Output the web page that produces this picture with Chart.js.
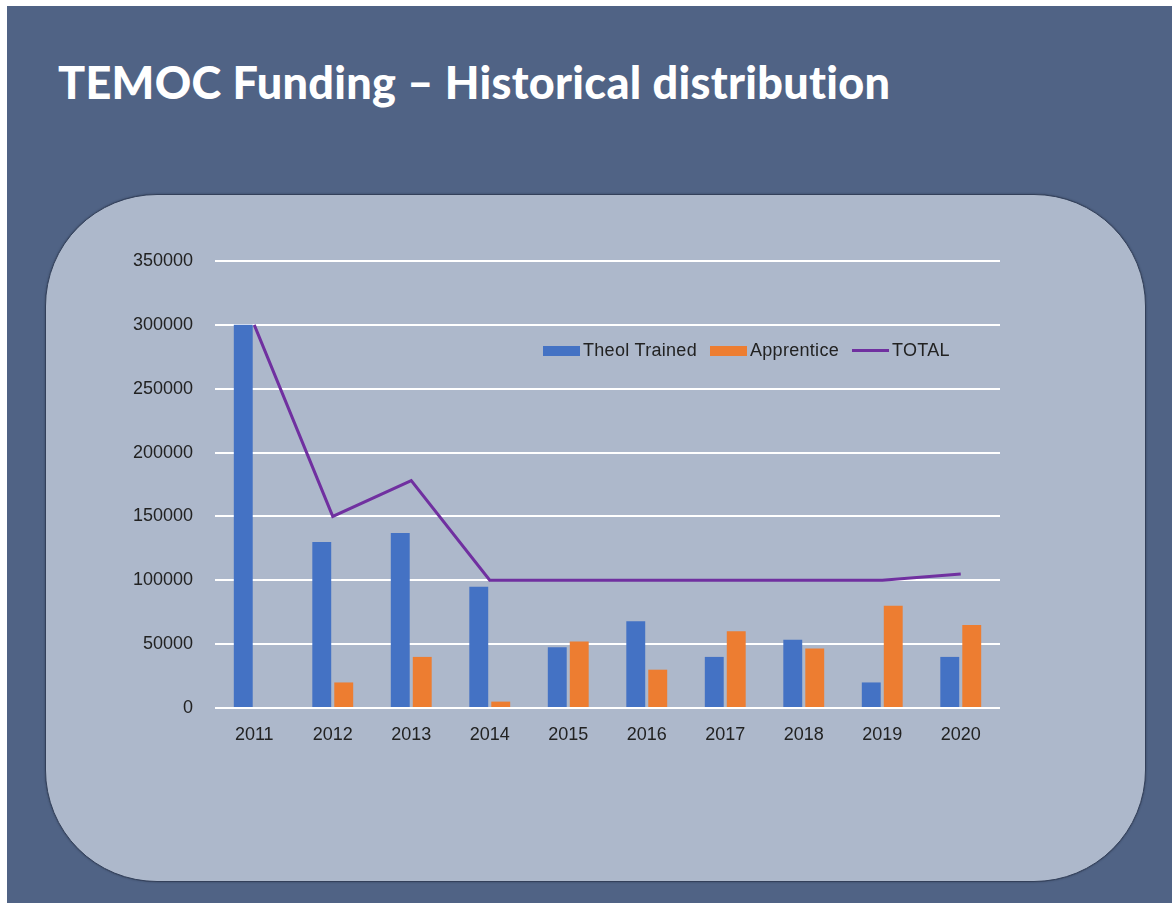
<!DOCTYPE html>
<html>
<head>
<meta charset="utf-8">
<script src="https://cdn.jsdelivr.net/npm/chart.js@4"></script>
<style>
    body { margin: 0; background: #ffffff; width: 1172px; height: 903px; overflow: hidden; position: relative; }
    #slide { position: absolute; left: 7px; top: 6px; width: 1165px; height: 897px; background: #506385; }
    #title { position: absolute; left: 58px; top: 55px; color: #ffffff; font-family: Lato, sans-serif; font-weight: 900; font-size: 45px; letter-spacing: 0.3px; white-space: nowrap; }
    #panel { position: absolute; left: 45px; top: 194px; width: 1099px; height: 686px; background: #adb8cb; border: 1px solid #33405a; border-radius: 112px; box-shadow: 0 0 2px rgba(30,40,60,0.6); }
    #chart { position: absolute; left: 0; top: 0; }
    #legend { position: absolute; left: 543px; top: 340px; display: flex; align-items: center; font-family: "Liberation Sans", Arial, sans-serif; font-size: 18px; color: #222; white-space: nowrap; letter-spacing: 0.3px; }
    .item { display: flex; align-items: center; margin-right: 13px; }
    .swatch { width: 37px; margin-right: 3px; }
</style>
</head>
<body>
<div id="slide"></div>
<div id="title">TEMOC Funding – Historical distribution</div>
<div id="panel"></div>
<canvas id="chart" width="1172" height="903"></canvas>
<div id="legend"></div>
<script>
document.addEventListener('DOMContentLoaded', function() {
    // Values
    const years = ['2011', '2012', '2013', '2014', '2015', '2016', '2017', '2018', '2019', '2020'];
    const theolTrained = [300000, 130000, 137000, 95000, 47500, 68000, 40000, 53500, 20000, 40000];
    const apprentice = [0, 20000, 40000, 5000, 52000, 30000, 60000, 46500, 80000, 65000];
    const total = [300000, 150000, 178000, 100000, 100000, 100000, 100000, 100000, 100000, 105000];
    const yMax = 350000;
    const yStep = 50000;

    const tickFont = { family: '"Liberation Sans", Arial, sans-serif', size: 18 };

    const chart = new Chart(document.getElementById('chart'), {
        type: 'bar',
        data: {
            labels: years,
            datasets: [
                {
                    label: 'Theol Trained',
                    data: theolTrained,
                    backgroundColor: '#4472c4',
                    categoryPercentage: 0.56,
                    barPercentage: 0.86,
                    order: 1
                },
                {
                    label: 'Apprentice',
                    data: apprentice,
                    backgroundColor: '#ed7d31',
                    categoryPercentage: 0.56,
                    barPercentage: 0.86,
                    order: 1
                },
                {
                    type: 'line',
                    label: 'TOTAL',
                    data: total,
                    borderColor: '#7030a0',
                    backgroundColor: '#7030a0',
                    borderWidth: 3,
                    pointRadius: 0,
                    tension: 0,
                    order: 0
                }
            ]
        },
        options: {
            responsive: false,
            devicePixelRatio: 1,
            animation: false,
            layout: {
                padding: { left: 100, right: 172, top: 261, bottom: 145 }
            },
            plugins: {
                legend: { display: false },
                tooltip: { enabled: false }
            },
            scales: {
                x: {
                    grid: { display: false, drawTicks: false },
                    border: { display: false },
                    ticks: { color: '#222', font: tickFont, padding: 16, maxRotation: 0 },
                    afterFit: function(scale) { scale.height = 50; }
                },
                y: {
                    min: 0,
                    max: yMax,
                    grid: { color: '#ffffff', lineWidth: 2, drawTicks: false },
                    border: { display: false },
                    ticks: {
                        stepSize: yStep,
                        color: '#222',
                        font: tickFont,
                        padding: 22,
                        callback: function(value) { return String(value); }
                    },
                    afterFit: function(scale) { scale.width = 115; }
                }
            }
        }
    });

    // Legend placed inside the plot like the reference
    const legend = document.getElementById('legend');
    chart.data.datasets.forEach(ds => {
        const item = document.createElement('div');
        item.className = 'item';
        const swatch = document.createElement('span');
        swatch.className = 'swatch';
        if (ds.type === 'line') {
            swatch.style.height = '3px';
            swatch.style.background = ds.borderColor;
        } else {
            swatch.style.height = '10px';
            swatch.style.background = ds.backgroundColor;
        }
        const text = document.createElement('span');
        text.textContent = ds.label;
        item.appendChild(swatch);
        item.appendChild(text);
        legend.appendChild(item);
    });
});
</script>
</body>
</html>
